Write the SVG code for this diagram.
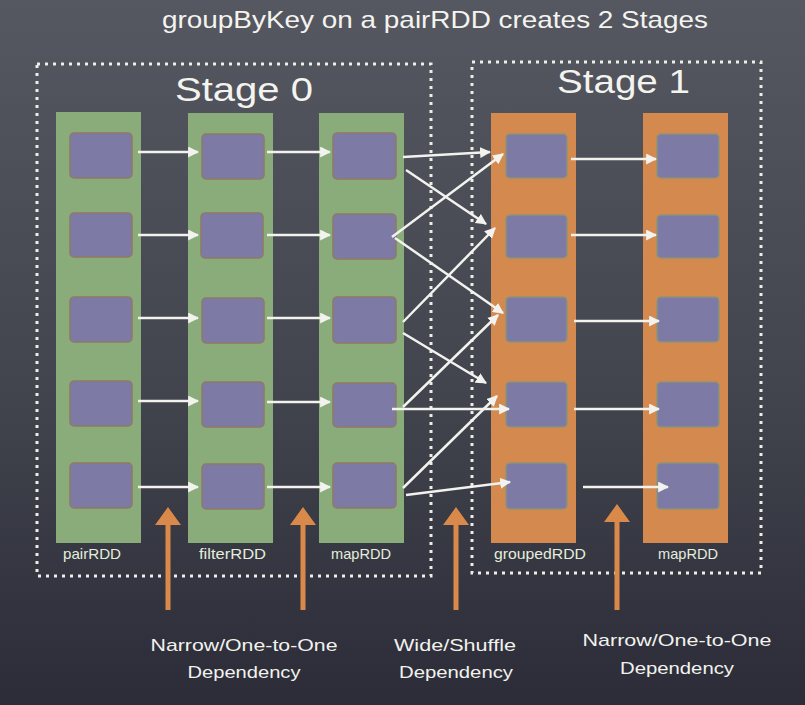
<svg xmlns="http://www.w3.org/2000/svg" width="805" height="705" viewBox="0 0 805 705">
  <defs>
    <linearGradient id="bg" x1="0" y1="0" x2="0" y2="1">
      <stop offset="0" stop-color="#555761"/>
      <stop offset="0.55" stop-color="#42444e"/>
      <stop offset="1" stop-color="#2b2c37"/>
    </linearGradient>
    <marker id="wh" viewBox="0 0 10 10" refX="9" refY="5" markerWidth="11" markerHeight="11" markerUnits="userSpaceOnUse" orient="auto">
      <path d="M0,0 L10,5 L0,10 z" fill="#f2f2ee"/>
    </marker>
    <style>
      .title { font-family: "Liberation Sans", "DejaVu Sans", sans-serif; fill: #f4f4ef; }
      .stage { font-family: "Liberation Sans", "DejaVu Sans", sans-serif; font-size: 34px; fill: #f4f4ef; }
      .lbl { font-family: "Liberation Sans", "DejaVu Sans", sans-serif; font-size: 15px; fill: #e4eedc; }
      .dep { font-family: "Liberation Sans", "DejaVu Sans", sans-serif; font-size: 17px; fill: #f2f2ee; text-anchor: middle; }
      .dots { fill: none; stroke: #eeeee6; stroke-width: 3; stroke-dasharray: 3 5; }
      .green { fill: #8aab7a; }
      .orange { fill: #d4894e; }
      .part { fill: #7d7aa6; stroke: #8f7a66; stroke-width: 1.5; }
      .orange-col .part { stroke: #8f9275; }
      .arr { stroke: #f2f2ee; stroke-width: 2.5; fill: none; marker-end: url(#wh); }
      .up { fill: #d98a4a; }
    </style>
  </defs>

  <rect width="805" height="705" fill="url(#bg)"/>

  <text class="title" x="162" y="28" font-size="24" textLength="546" lengthAdjust="spacingAndGlyphs">groupByKey on a pairRDD creates 2 Stages</text>

  <g id="stage0">
    <rect class="dots" x="37" y="64" width="394" height="512"/>
    <text class="stage" x="175" y="101" textLength="138" lengthAdjust="spacingAndGlyphs">Stage 0</text>
  </g>
  <g id="stage1">
    <rect class="dots" x="472" y="62" width="289" height="511"/>
    <text class="stage" x="557" y="93" textLength="133" lengthAdjust="spacingAndGlyphs">Stage 1</text>
  </g>

  <g id="pairRDD">
    <rect class="green" x="56" y="112" width="85" height="431"/>
    <rect class="part" x="70" y="133" width="62" height="45" rx="4"/>
    <rect class="part" x="70" y="213" width="62" height="44" rx="4"/>
    <rect class="part" x="70" y="297" width="62" height="45" rx="4"/>
    <rect class="part" x="70" y="381" width="62" height="45" rx="4"/>
    <rect class="part" x="70" y="463" width="62" height="45" rx="4"/>
    <text class="lbl" x="63" y="559" textLength="58" lengthAdjust="spacingAndGlyphs">pairRDD</text>
  </g>

  <g id="filterRDD">
    <rect class="green" x="188" y="113" width="85" height="430"/>
    <rect class="part" x="202" y="134" width="62" height="45" rx="4"/>
    <rect class="part" x="201" y="213" width="62" height="45" rx="4"/>
    <rect class="part" x="202" y="298" width="62" height="45" rx="4"/>
    <rect class="part" x="202" y="382" width="62" height="45" rx="4"/>
    <rect class="part" x="202" y="464" width="62" height="45" rx="4"/>
    <text class="lbl" x="199" y="559" textLength="67" lengthAdjust="spacingAndGlyphs">filterRDD</text>
  </g>

  <g id="mapRDD0">
    <rect class="green" x="319" y="113" width="85" height="430"/>
    <rect class="part" x="333" y="133" width="63" height="46" rx="4"/>
    <rect class="part" x="333" y="214" width="63" height="45" rx="4"/>
    <rect class="part" x="333" y="297" width="63" height="46" rx="4"/>
    <rect class="part" x="333" y="383" width="63" height="44" rx="4"/>
    <rect class="part" x="333" y="463" width="63" height="45" rx="4"/>
    <text class="lbl" x="331" y="559" textLength="60" lengthAdjust="spacingAndGlyphs">mapRDD</text>
  </g>

  <g id="groupedRDD" class="orange-col">
    <rect class="orange" x="491" y="113" width="85" height="430"/>
    <rect class="part" x="506" y="134" width="61" height="44" rx="4"/>
    <rect class="part" x="506" y="215" width="61" height="43" rx="4"/>
    <rect class="part" x="506" y="297" width="61" height="45" rx="4"/>
    <rect class="part" x="506" y="382" width="61" height="45" rx="4"/>
    <rect class="part" x="506" y="463" width="61" height="46" rx="4"/>
    <text class="lbl" x="494" y="559" textLength="92" lengthAdjust="spacingAndGlyphs">groupedRDD</text>
  </g>

  <g id="mapRDD1" class="orange-col">
    <rect class="orange" x="643" y="113" width="85" height="430"/>
    <rect class="part" x="657" y="134" width="62" height="44" rx="4"/>
    <rect class="part" x="657" y="215" width="62" height="43" rx="4"/>
    <rect class="part" x="657" y="297" width="62" height="45" rx="4"/>
    <rect class="part" x="657" y="382" width="62" height="45" rx="4"/>
    <rect class="part" x="657" y="463" width="62" height="46" rx="4"/>
    <text class="lbl" x="658" y="559" textLength="60" lengthAdjust="spacingAndGlyphs">mapRDD</text>
  </g>

  <g id="connectors">
    <!-- pairRDD -> filterRDD -->
    <line class="arr" x1="138" y1="152" x2="198" y2="152"/>
    <line class="arr" x1="138" y1="235" x2="198" y2="235"/>
    <line class="arr" x1="138" y1="318" x2="198" y2="318"/>
    <line class="arr" x1="138" y1="401" x2="198" y2="401"/>
    <line class="arr" x1="138" y1="487" x2="198" y2="487"/>
    <!-- filterRDD -> mapRDD -->
    <line class="arr" x1="267" y1="152" x2="330" y2="152"/>
    <line class="arr" x1="267" y1="235" x2="330" y2="235"/>
    <line class="arr" x1="267" y1="318" x2="330" y2="318"/>
    <line class="arr" x1="267" y1="402" x2="330" y2="402"/>
    <line class="arr" x1="267" y1="487" x2="330" y2="487"/>
    <!-- shuffle mapRDD -> groupedRDD -->
    <line class="arr" x1="403" y1="157" x2="490" y2="152"/>
    <line class="arr" x1="406" y1="170" x2="486" y2="224"/>
    <line class="arr" x1="392" y1="237" x2="503" y2="154"/>
    <line class="arr" x1="395" y1="238" x2="503" y2="313"/>
    <line class="arr" x1="403" y1="322" x2="495" y2="228"/>
    <line class="arr" x1="403" y1="333" x2="486" y2="383"/>
    <line class="arr" x1="403" y1="407" x2="498" y2="315"/>
    <line class="arr" x1="392" y1="409" x2="509" y2="409"/>
    <line class="arr" x1="403" y1="488" x2="497" y2="396"/>
    <line class="arr" x1="406" y1="495" x2="510" y2="482"/>
    <!-- groupedRDD -> mapRDD -->
    <line class="arr" x1="571" y1="159" x2="656" y2="159"/>
    <line class="arr" x1="571" y1="235" x2="656" y2="235"/>
    <line class="arr" x1="574" y1="321" x2="659" y2="321"/>
    <line class="arr" x1="574" y1="409" x2="659" y2="409"/>
    <line class="arr" x1="583" y1="487" x2="668" y2="487"/>
  </g>

  <g id="dep-arrows">
    <path class="up" d="M168,507 L181,525 L170.5,525 L170.5,610 L165.5,610 L165.5,525 L155,525 z"/>
    <path class="up" d="M303,507 L316,525 L305.5,525 L305.5,610 L300.5,610 L300.5,525 L290,525 z"/>
    <path class="up" d="M456,507 L469,525 L458.5,525 L458.5,610 L453.5,610 L453.5,525 L443,525 z"/>
    <path class="up" d="M617,504 L630,522 L619.5,522 L619.5,610 L614.5,610 L614.5,522 L604,522 z"/>
  </g>

  <g id="dep-labels">
    <text class="dep" x="244" y="651" textLength="187" lengthAdjust="spacingAndGlyphs">Narrow/One-to-One</text>
    <text class="dep" x="244" y="678" textLength="113" lengthAdjust="spacingAndGlyphs">Dependency</text>
    <text class="dep" x="455" y="651" textLength="122" lengthAdjust="spacingAndGlyphs">Wide/Shuffle</text>
    <text class="dep" x="456" y="678" textLength="114" lengthAdjust="spacingAndGlyphs">Dependency</text>
    <text class="dep" x="677" y="646" textLength="189" lengthAdjust="spacingAndGlyphs">Narrow/One-to-One</text>
    <text class="dep" x="677" y="674" textLength="114" lengthAdjust="spacingAndGlyphs">Dependency</text>
  </g>
</svg>
